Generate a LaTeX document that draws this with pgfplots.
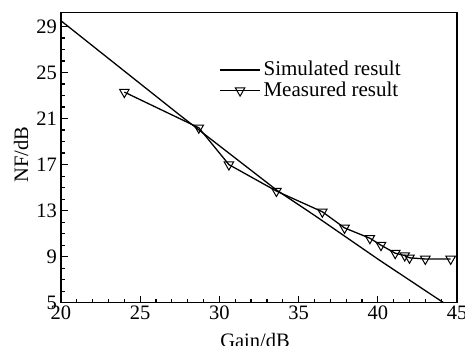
\documentclass[border=0pt]{standalone}
\usepackage{fontspec}
\setmainfont{Liberation Serif}
\usepackage{pgfplots}
\pgfplotsset{compat=1.18}
\begin{document}
\fontsize{21bp}{24bp}\selectfont
\begin{tikzpicture}
\begin{axis}[
  scale only axis,
  width=396bp, height=290bp,
  xmin=20, xmax=45, ymin=5, ymax=30.2,
  xtick={20,25,...,45}, ytick={5,9,...,29},
  minor x tick num=4, minor y tick num=3,
  tick align=inside,
  xtick pos=bottom, ytick pos=left,
  major tick length=7bp, minor tick length=4bp,
  every tick/.style={black, line width=1.2pt},
  axis line style={line width=1.3pt},
  /pgf/number format/assume math mode=true,
  ticklabel style={font=\fontsize{20.5bp}{23bp}\selectfont},
  xticklabel style={yshift=4bp},
  yticklabel style={xshift=3bp},
  xlabel={Gain/dB},
  ylabel={NF/dB},
  label style={font=\fontsize{20.5bp}{23bp}\selectfont},
  xlabel style={at={(axis description cs:0.49,0)}, anchor=north, yshift=-23bp},
  ylabel style={at={(axis description cs:-0.101,0.51)}, anchor=center},
  legend style={draw=none, fill=none, at={(axis cs:30.0,26.1)}, anchor=north west,
    font=\fontsize{21bp}{24bp}\selectfont, row sep=1bp, inner sep=0pt,
    nodes={inner xsep=3bp, inner ysep=1bp}},
  legend cell align=left,
  legend image code/.code={\draw[mark repeat=2,mark phase=2,#1] plot coordinates {(0cm,0cm) (0.7cm,0cm) (1.4cm,0cm)};},
]
\addplot[black, line width=1.3pt] coordinates {
  (20.0,29.5) (27.5,21.3) (33.6,14.8) (36.1,12.5) (40.1,8.7) (44.15,5.0)
};
\addlegendentry{Simulated result}
\addplot[black, line width=1.3pt, mark=triangle, mark size=5.5pt,
  mark options={rotate=180, fill=white, line width=1pt}] coordinates {
  (24.0,23.3) (28.7,20.2) (30.6,17.0) (33.6,14.7) (36.5,12.9) (37.9,11.5)
  (39.5,10.6) (40.2,10.0) (41.1,9.3) (41.7,9.1) (42.0,8.9) (43.0,8.8) (44.6,8.8)
};
\addlegendentry{Measured result}
\end{axis}
\pgfresetboundingbox
\useasboundingbox ([shift={(-61bp,-43.3bp)}]current axis.south west) rectangle ([shift={(8bp,12.7bp)}]current axis.north east);
\end{tikzpicture}
\end{document}
